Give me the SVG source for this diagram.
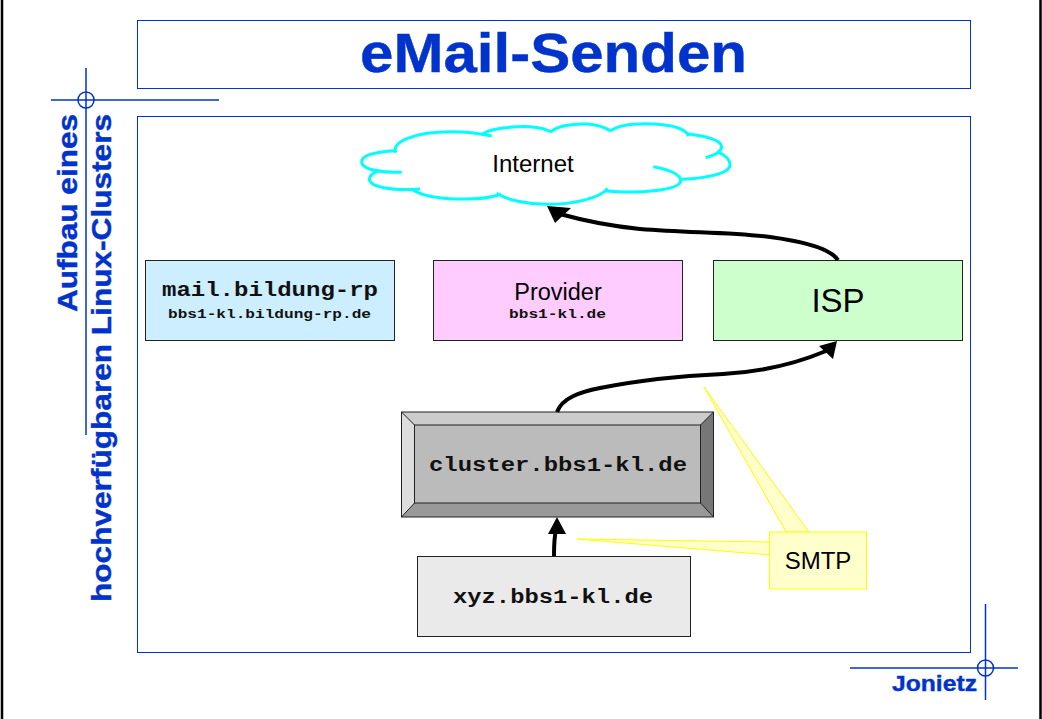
<svg xmlns="http://www.w3.org/2000/svg" width="1042" height="719" viewBox="0 0 1042 719">
<style>
.blue{fill:none;stroke:#0033cc;stroke-width:1}
.reg{fill:none;stroke:#0033cc;stroke-width:1.5}
.tb{font-family:"Liberation Sans",Arial,sans-serif;font-weight:bold;fill:#0033cc;stroke:#0033cc;stroke-width:.4}
.box{stroke:#222;stroke-width:1}
.sans{font-family:"Liberation Sans",Arial,sans-serif;fill:#000;text-anchor:middle}
.mono{font-family:"Liberation Mono","Courier New",monospace;font-weight:bold;fill:#111}
.conn{fill:none;stroke:#000;stroke-width:4}
.head{fill:#000;stroke:none}
.cloud{fill:none;stroke:#00ffff;stroke-width:9;stroke-linecap:butt}
</style>
<rect width="1042" height="719" fill="#fff"/>
<g id="page-border"><path d="M2 0V719M1040.500 0V719" fill="none" stroke="#000" stroke-width="2.500"/></g>
<g id="title-box"><rect class="blue" x="137.500" y="20.500" width="833" height="68"/>
<text class="tb" x="360" y="72" font-size="55" textLength="387" lengthAdjust="spacingAndGlyphs">eMail-Senden</text></g>
<g id="content-frame"><rect class="blue" x="137.500" y="116.500" width="833" height="536"/></g>
<g id="registration-top"><path class="reg" d="M86 68V435M51 100H219"/><circle class="reg" cx="86" cy="100" r="8"/></g>
<g id="registration-bottom"><path class="reg" d="M985.500 604V700M850 668H1018"/><circle class="reg" cx="985.500" cy="668" r="8"/></g>
<g id="side-title">
<text class="tb" transform="translate(77 312) rotate(-90)" font-size="28" textLength="198" lengthAdjust="spacingAndGlyphs">Aufbau eines</text>
<text class="tb" transform="translate(111 602) rotate(-90)" font-size="28" textLength="488" lengthAdjust="spacingAndGlyphs">hochverfügbaren Linux-Clusters</text>
</g>
<g id="author"><text class="tb" x="892" y="691" font-size="22" textLength="85" lengthAdjust="spacingAndGlyphs">Jonietz</text></g>
<g id="internet">
<g transform="translate(340 110) scale(.33333)">
<path class="cloud" d="M185 187C120 187 65 178 65 155C65 135 110 125 165 122"/>
<path class="cloud" d="M168 128C150 95 230 65 330 65C380 65 420 70 455 78"/>
<path class="cloud" d="M425 74C450 55 520 48 570 50C600 52 620 58 634 66"/>
<path class="cloud" d="M632 66C650 48 700 40 740 42C770 44 795 52 810 62"/>
<path class="cloud" d="M810 64C835 45 890 40 940 42C990 44 1035 55 1047 78"/>
<path class="cloud" d="M1045 72C1100 78 1145 92 1145 110C1145 125 1125 135 1097 143"/>
<path class="cloud" d="M1132 125C1155 135 1170 150 1170 165C1170 190 1100 205 1025 208"/>
<path class="cloud" d="M940 170C990 178 1022 195 1022 212C1022 240 900 252 798 243"/>
<path class="cloud" d="M803 235C780 265 700 283 620 283C560 283 500 270 470 250"/>
<path class="cloud" d="M482 252C450 265 400 268 350 267C290 265 240 255 213 236"/>
<path class="cloud" d="M240 237C150 243 90 230 88 208C88 195 100 188 118 182"/>
</g>
<text class="sans" x="533" y="172" font-size="24">Internet</text>
</g>
<g id="mail"><rect class="box" x="145.500" y="260.500" width="249" height="80" fill="#cceeff"/>
<text class="mono" x="162" y="296" font-size="20" textLength="216" lengthAdjust="spacingAndGlyphs">mail.bildung-rp</text>
<text class="mono" x="168" y="318" font-size="12.500" textLength="203" lengthAdjust="spacingAndGlyphs">bbs1-kl.bildung-rp.de</text></g>
<g id="provider"><rect class="box" x="433.500" y="260.500" width="249" height="80" fill="#ffccff"/>
<text class="sans" x="558" y="300" font-size="23.500">Provider</text>
<text class="mono" x="509" y="318" font-size="12.500" textLength="97" lengthAdjust="spacingAndGlyphs">bbs1-kl.de</text></g>
<g id="isp"><rect class="box" x="713.500" y="260.500" width="249" height="80" fill="#ccffcc"/>
<text class="sans" x="838" y="312" font-size="33">ISP</text></g>
<g id="cluster">
<rect x="401.500" y="412" width="312" height="105" fill="#bbb"/>
<polygon points="401.500,412 713.500,412 700.500,425 414.500,425" fill="#ccc"/>
<polygon points="401.500,412 414.500,425 414.500,503 401.500,517" fill="#ddd"/>
<polygon points="713.500,412 713.500,517 700.500,503 700.500,425" fill="#777"/>
<polygon points="401.500,517 414.500,503 700.500,503 713.500,517" fill="#999"/>
<rect x="401.500" y="412" width="312" height="105" fill="none" stroke="#222"/>
<rect x="414.500" y="425" width="286" height="78" fill="none" stroke="#222"/>
<path d="M401.500 412L414.500 425M713.500 412L700.500 425M401.500 517L414.500 503M713.500 517L700.500 503" stroke="#222" fill="none"/>
<text class="mono" x="429" y="471" font-size="20" textLength="258" lengthAdjust="spacingAndGlyphs">cluster.bbs1-kl.de</text></g>
<g id="xyz"><rect class="box" x="417.500" y="556.500" width="273" height="80" fill="#eaeaea"/>
<text class="mono" x="453" y="603" font-size="20" textLength="200" lengthAdjust="spacingAndGlyphs">xyz.bbs1-kl.de</text></g>
<g id="connectors">
<path class="conn" d="M838 260C830 248 800 241 770 237C730 232 690 233 640 229C610 226 585 221 560 214"/>
<polygon class="head" points="547,206 571,208 555,223"/>
<path class="conn" d="M557 412C562 398 580 392 600 388C640 380 680 376 723 374C760 372 795 364 826 351"/>
<polygon class="head" points="837,341 833,359 819,346"/>
<path class="conn" d="M554 556C554 545 554 538 556 530"/>
<polygon class="head" points="557,517 566,534 548,534"/>
</g>
<g id="smtp">
<path d="M704 387L786 532H809L704 387ZM577 539L770 542V555Z" fill="#ffffcc" stroke="#ffff00" stroke-width="1"/>
<rect x="769.500" y="532" width="97" height="57" fill="#ffffcc" stroke="#ffff00" stroke-width="1"/>
<text class="sans" x="818" y="569" font-size="24">SMTP</text>
</g>
</svg>
